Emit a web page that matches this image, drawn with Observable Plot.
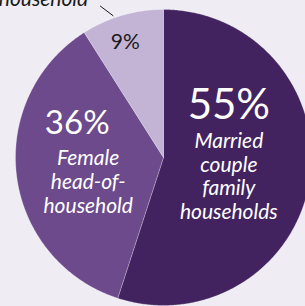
<!DOCTYPE html>
<html><head><meta charset="utf-8">
<script src="https://cdn.jsdelivr.net/npm/d3@7"></script>
<script src="https://cdn.jsdelivr.net/npm/@observablehq/plot@0.6"></script>
<style>
html,body{margin:0;padding:0;background:#efecf3;}
#chart{width:305px;height:306px;overflow:hidden;}
</style></head><body><div id="chart"></div>
<script>
// ---- data ----
const categories = ["Married couple family households", "Female head-of-household", "Male head-of-household"];
const shares = [55, 36, 9];
const valueLabels = ["55%", "36%", "9%"];
const descLabels = ["Married\ncouple\nfamily\nhouseholds", "Female\nhead-of-\nhousehold", ""];
const outsideLabels = ["", "", "household"];
const colors = ["#43235f", "#6c4a8c", "#c3b3d5"];

// ---- layout ----
const W = 305, H = 306, R = 148, CX = 163, CY = 157;
const labelRadius = [0.44, 0.54, 0.83];
const pctOffset = [[1, -49], [-7, -34], [-4, 9]];
const descOffset = [[1, 51], [4, 45], [0, 0]];
const pctSize = [42, 33, 21];
const pctColor = ["#ffffff", "#ffffff", "#1a1a1a"];

const pie = d3.pie().sort(null).value(d => d)(shares);
const pts = [];
pie.forEach((s, i) => {
  pts.push({cat: categories[i], x: 0, y: 0});
  const n = Math.max(2, Math.ceil((s.endAngle - s.startAngle) / 0.01));
  for (let k = 0; k <= n; k++) {
    const a = s.startAngle + (s.endAngle - s.startAngle) * k / n;
    pts.push({cat: categories[i], x: Math.sin(a), y: Math.cos(a)});
  }
  pts.push({cat: categories[i], x: 0, y: 0});
});
const labels = pie.map((s, i) => {
  const m = (s.startAngle + s.endAngle) / 2;
  return {i, cat: categories[i], pct: valueLabels[i], desc: descLabels[i], out: outsideLabels[i], mid: m,
    x: labelRadius[i] * Math.sin(m), y: labelRadius[i] * Math.cos(m),
    ex: Math.sin(m), ey: Math.cos(m)};
});
const deg = Math.PI / 180;
const outside = labels.filter(d => d.out);
const leaders = outside.map(d => ({
  x1: 1.015 * Math.sin(d.mid - 3.3 * deg), y1: 1.015 * Math.cos(d.mid - 3.3 * deg),
  x2: 1.11 * Math.sin(d.mid - 6.5 * deg), y2: 1.11 * Math.cos(d.mid - 6.5 * deg)
}));

const font = "Lato, 'Open Sans', sans-serif";
const marks = [
  Plot.line(pts, {x: "x", y: "y", z: "cat", fill: "cat", stroke: "#ffffff", strokeOpacity: 0.3, strokeWidth: 0.8, curve: "linear"})
];
labels.forEach(d => {
  marks.push(Plot.text([d], {x: "x", y: "y", text: "pct", lineAnchor: "bottom", dx: pctOffset[d.i][0], dy: pctOffset[d.i][1],
    fontSize: pctSize[d.i], fill: pctColor[d.i], fontFamily: font}));
  if (d.desc) marks.push(Plot.text([d], {x: "x", y: "y", text: "desc", lineAnchor: "bottom", lineHeight: 1.12,
    dx: descOffset[d.i][0], dy: descOffset[d.i][1], fontSize: 21, fontStyle: "italic", fill: "#ffffff", fontFamily: font}));
});
marks.push(Plot.text(outside, {x: "ex", y: "ey", text: "out", lineAnchor: "bottom", textAnchor: "end",
  dx: -34, dy: -9, fontSize: 21, fontStyle: "italic", fill: "#1a1a1a", fontFamily: font}));
marks.push(Plot.link(leaders, {x1: "x1", y1: "y1", x2: "x2", y2: "y2", stroke: "#1a1a1a", strokeWidth: 1}));

const chart = Plot.plot({
  width: W, height: H, margin: 0,
  x: {domain: [-CX / R, (W - CX) / R], axis: null},
  y: {domain: [-(H - CY) / R, CY / R], axis: null},
  color: {domain: categories, range: colors},
  style: {background: "#efecf3", overflow: "hidden"},
  marks
});
document.getElementById("chart").appendChild(chart);
</script></body></html>
